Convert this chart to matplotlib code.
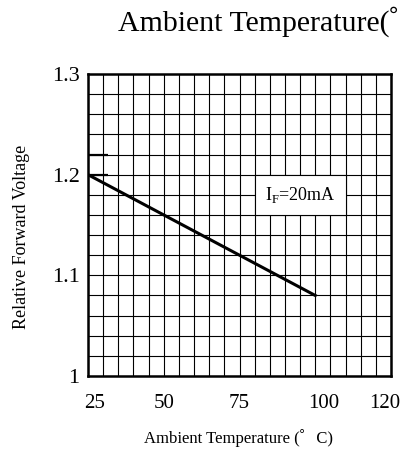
import matplotlib
matplotlib.use("Agg")
import matplotlib.pyplot as plt
import matplotlib.transforms as mtransforms
import numpy as np
from matplotlib.patches import Rectangle

# data
temp = [25, 100]
vf_rel = [1.20, 1.08]
xtick_vals = [25, 50, 75, 100, 120]
xtick_labels = ["25", "50", "75", "100", "120"]
ytick_vals = [1.0, 1.1, 1.2, 1.3]
ytick_labels = ["1", "1.1", "1.2", "1.3"]
note = r"I$_\mathregular{F}$=20mA"

plt.rcParams['font.family'] = ['Liberation Serif', 'Noto Sans CJK JP']
plt.rcParams['mathtext.fontset'] = 'custom'
plt.rcParams['mathtext.rm'] = 'Liberation Serif'

fig = plt.figure(figsize=(4.04, 4.49), dpi=100)
ax = fig.add_axes([88/404, 1-376/449, 303/404, 302/449])

ax.set_xlim(25, 125)
ax.set_ylim(1.0, 1.3)

# grid: 5 deg columns, 0.02 rows
ax.set_xticks(np.arange(25, 126, 5), minor=True)
ax.set_yticks(np.arange(1.0, 1.301, 0.02), minor=True)
ax.set_xticks(xtick_vals)
ax.set_xticklabels(xtick_labels, fontsize=15)
ax.set_yticks(ytick_vals)
ax.set_yticklabels(ytick_labels, fontsize=16)
ax.tick_params(which='both', length=0)
ax.tick_params(axis='x', pad=13)
ax.tick_params(axis='y', pad=6)
ax.grid(which='both', color='black', linewidth=0.8)

# the original labels sit a little right of their grid lines
shifts = [7, 0, 0, 8, 9]
for lab, dx in zip(ax.get_xticklabels(), shifts):
    lab.set_transform(lab.get_transform() +
                      mtransforms.ScaledTranslation(dx/100, 0, fig.dpi_scale_trans))

for s in ax.spines.values():
    s.set_linewidth(1.8)

# short darker segments near the left edge
ax.hlines([1.22, 1.20], 25, 31.5, color='black', linewidth=1.6, zorder=3)

# label box
ax.add_patch(Rectangle((80, 1.16), 30, 0.04, facecolor='white',
                       edgecolor='black', linewidth=0.8, zorder=3))
ax.text(95, 1.18, note, fontsize=13, ha='center', va='center', zorder=4)

ax.plot(temp, vf_rel, color='black', linewidth=2.2, zorder=5)

fig.text(22/404, 1-237/449, "Relative Forward Voltage", rotation=90,
         fontsize=13, ha='center', va='center')
fig.text(238/404, 1-438/449, "Ambient Temperature (゜C)",
         fontsize=12, ha='center', va='center')
fig.text(118/404, 1-22/449, "Ambient Temperature(゜C)",
         fontsize=21.5, ha='left', va='center')

fig.savefig("out.png", dpi=100)
